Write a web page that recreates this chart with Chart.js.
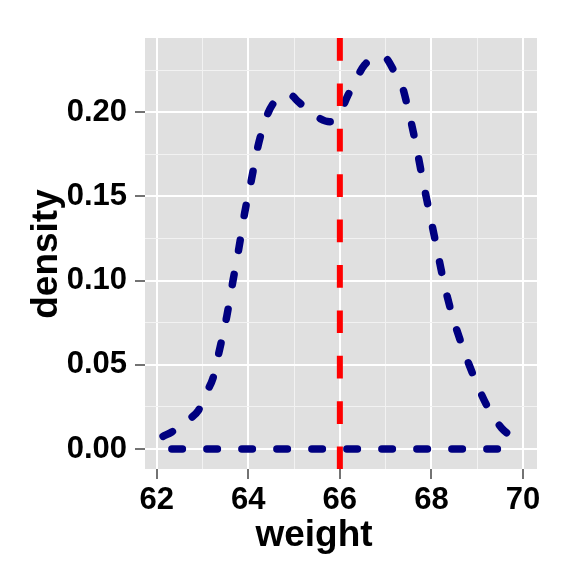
<!DOCTYPE html>
<html><head><meta charset="utf-8">
<script src="https://cdn.jsdelivr.net/npm/chart.js@4"></script>
<style>html,body{margin:0;padding:0;background:#fff}</style>
</head><body>
<canvas id="c" width="576" height="576" style="width:576px;height:576px;display:block"></canvas>
<script>
// ---- data ----
const weightX = [62.14, 62.33, 62.72, 62.91, 63.12, 63.23, 63.34, 63.53, 63.67, 63.80, 63.92, 64.07, 64.21, 64.43, 64.65, 64.91, 65.09, 65.34, 65.78, 65.96, 66.18, 66.29, 66.54, 66.83, 66.98, 67.23, 67.34, 67.52, 67.67, 67.81, 67.96, 68.11, 68.25, 68.43, 68.65, 68.91, 69.20, 69.53, 69.93];
const densityY = [0.0075, 0.0101, 0.0178, 0.0229, 0.0352, 0.0421, 0.055, 0.0787, 0.1005, 0.120, 0.140, 0.160, 0.1796, 0.1994, 0.2083, 0.2103, 0.2063, 0.2004, 0.1944, 0.1974, 0.2103, 0.2162, 0.2281, 0.2330, 0.2326, 0.2221, 0.2172, 0.1984, 0.1796, 0.1598, 0.140, 0.1202, 0.1015, 0.0817, 0.0629, 0.0441, 0.0263, 0.0125, 0.0045];
const baseX = [62.14, 69.93];
const baseY = [0, 0];
const vlineX = 66;
const xMajor = [62, 64, 66, 68, 70];
const xMinor = [63, 65, 67, 69];
const yMajor = [0, 0.05, 0.10, 0.15, 0.20];
const yMinor = [0.025, 0.075, 0.125, 0.175, 0.225];
const xRange = [61.745, 70.305];
const yRange = [-0.0119, 0.2441];
const xTitle = 'weight';
const yTitle = 'density';

const FONT = '"Liberation Sans", Arial, Helvetica, sans-serif';
const curvePts = weightX.map((x, i) => ({x, y: densityY[i]}));
const basePts = baseX.map((x, i) => ({x, y: baseY[i]}));
const vlinePts = [{x: vlineX, y: yRange[1]}, {x: vlineX, y: yRange[0]}];

const isMajor = (arr, v) => arr.some(m => Math.abs(m - v) < 1e-9);

const bgPlugin = {
  id: 'bg',
  beforeDraw(chart) {
    const {ctx, chartArea: a} = chart;
    ctx.save();
    ctx.fillStyle = '#ffffff';
    ctx.fillRect(0, 0, chart.width, chart.height);
    ctx.fillStyle = '#E0E0E0';
    ctx.fillRect(a.left, a.top, a.right - a.left, a.bottom - a.top);
    ctx.restore();
  }
};
const titlePlugin = {
  id: 'titles',
  afterDraw(chart) {
    const ctx = chart.ctx;
    ctx.save();
    ctx.fillStyle = '#000';
    ctx.font = 'bold 37px ' + FONT;
    ctx.textAlign = 'center';
    ctx.textBaseline = 'alphabetic';
    ctx.fillText(xTitle, 314, 546);
    ctx.translate(57, 254);
    ctx.rotate(-Math.PI / 2);
    ctx.fillText(yTitle, 0, 0);
    ctx.restore();
  }
};

function axisCfg(range, major, minor, fmt, fit, pad) {
  return {
    type: 'linear',
    min: range[0], max: range[1],
    afterBuildTicks: s => { s.ticks = [...major, ...minor].sort((a, b) => a - b).map(v => ({value: v})); },
    afterFit: fit,
    border: {display: false},
    grid: {
      color: c => isMajor(major, c.tick.value) ? '#FFFFFF' : '#F2F2F2',
      lineWidth: c => isMajor(major, c.tick.value) ? 2 : 1,
      tickLength: 10,
      tickWidth: 2,
      tickColor: c => isMajor(major, c.tick.value) ? '#737373' : 'rgba(0,0,0,0)'
    },
    ticks: {
      autoSkip: false, maxRotation: 0, minRotation: 0, padding: pad,
      color: '#000',
      font: {family: FONT, size: 31, weight: 'bold'},
      callback: v => isMajor(major, v) ? fmt(v) : ''
    }
  };
}

new Chart(document.getElementById('c'), {
  type: 'scatter',
  data: {
    datasets: [
      {data: vlinePts, showLine: true, borderColor: '#FF0000', borderWidth: 6,
       borderDash: [22.7, 22.7], borderCapStyle: 'butt', pointRadius: 0, order: 0},
      {data: curvePts, showLine: true, borderColor: '#000080', borderWidth: 7.5,
       borderDash: [10.5, 24.5], borderCapStyle: 'round', borderJoinStyle: 'round',
       cubicInterpolationMode: 'monotone', pointRadius: 0, order: 1},
      {data: basePts, showLine: true, borderColor: '#000080', borderWidth: 7.5,
       borderDash: [10.5, 24.5], borderDashOffset: 26.2, borderCapStyle: 'round',
       pointRadius: 0, order: 2}
    ]
  },
  options: {
    responsive: false,
    animation: false,
    devicePixelRatio: 1,
    layout: {padding: {left: 0, top: 38, right: 39, bottom: 0}},
    plugins: {legend: {display: false}, tooltip: {enabled: false}},
    scales: {
      x: axisCfg(xRange, xMajor, xMinor, v => String(v), s => { s.height = 107; }, 3),
      y: axisCfg(yRange, yMajor, yMinor, v => v.toFixed(2), s => { s.width = 145; }, 8)
    }
  },
  plugins: [bgPlugin, titlePlugin]
});
</script>
</body></html>
